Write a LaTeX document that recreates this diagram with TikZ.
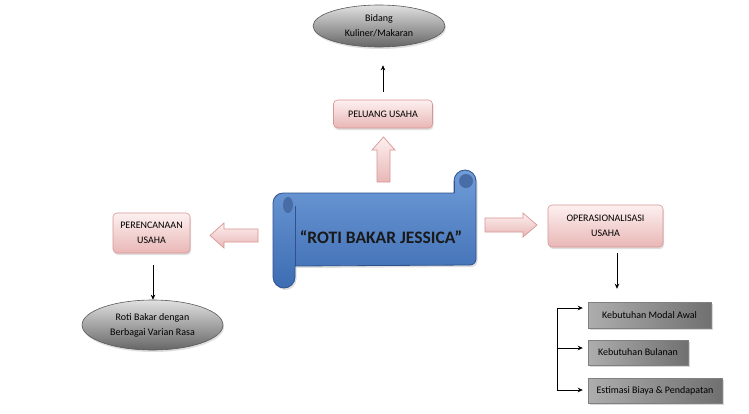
\documentclass[tikz,border=0pt]{standalone}
\usepackage{fontspec}
\setmainfont{Carlito}
\usetikzlibrary{arrows.meta,shadows,calc,shapes.geometric}
\definecolor{pinkA}{RGB}{253,240,240}
\definecolor{pinkB}{RGB}{232,183,182}
\definecolor{pinkLine}{RGB}{217,150,148}
\definecolor{blueA}{RGB}{112,156,216}
\definecolor{blueB}{RGB}{60,108,178}
\definecolor{blueLine}{RGB}{47,82,143}
\definecolor{blueDark}{RGB}{72,108,165}
\tikzset{
  pinkbox/.style={draw=pinkLine, line width=0.6pt, rounded corners=4pt,
    top color=pinkA, bottom color=pinkB, align=center, font=\fontsize{10}{15}\selectfont,
    text=black, drop shadow={opacity=0.25, shadow xshift=1pt, shadow yshift=-2pt}},
  grayell/.style={ellipse, draw=black!65, line width=0.6pt, top color=black!12, bottom color=black!60,
    align=center, font=\fontsize{10}{15}\selectfont, text=black,
    drop shadow={opacity=0.25, shadow xshift=1pt, shadow yshift=-2pt}},
  graybox/.style={draw=black!50, line width=0.5pt, left color=black!32, middle color=black!6, right color=black!56,
    font=\fontsize{10}{12}\selectfont, text=black, inner sep=0pt,
    drop shadow={opacity=0.3, shadow xshift=1.5pt, shadow yshift=-2pt}},
  arr/.style={-{Stealth[length=5pt,width=4.5pt]}, line width=0.6pt, black},
  blockarr/.style={draw=pinkLine, line width=0.7pt, top color=pinkA, bottom color=pinkB, line join=miter},
}
\begin{document}
\begin{tikzpicture}[x=1pt,y=-1pt]
\useasboundingbox[fill=white] (0,0) rectangle (749,413);

% scroll
\path[draw=blueLine, line width=0.8pt, top color=blueA, bottom color=blueB,
  drop shadow={opacity=0.25, shadow xshift=1.5pt, shadow yshift=-2pt}]
  (273,203) arc[start angle=180, end angle=270, radius=10] -- (454,193) -- (454,181)
  arc[start angle=180, end angle=360, radius=11] -- (476,259)
  arc[start angle=0, end angle=90, radius=6] -- (295,266) -- (295,277)
  arc[start angle=0, end angle=180, radius=11] -- cycle;
\fill[blueDark] (288,205) ellipse[x radius=5, y radius=8];
\draw[blueLine, line width=0.6pt] (295,206) -- (295,266);
\fill[blueDark] (466,181) circle (7);
\draw[blueLine, line width=0.6pt] (454,181) -- (454,193);
\node[font=\fontsize{17.5}{20}\selectfont\bfseries, text=black!90] (title) at (381,237) {“ROTI BAKAR JESSICA”};

% pink boxes
\node[pinkbox, minimum width=99pt, minimum height=28pt] (peluang) at (383,114) {PELUANG USAHA};
\node[pinkbox, minimum width=77pt, minimum height=40pt] (perenc) at (151.5,233) {PERENCANAAN\\USAHA};
\node[pinkbox, minimum width=115pt, minimum height=42pt] (oper) at (605.5,226) {OPERASIONALISASI\\USAHA};

% ellipses
\node[grayell, minimum width=132pt, minimum height=42pt, inner sep=0pt] (bidang) at (379,26) {Bidang\\Kuliner/Makaran};
\node[grayell, minimum width=141pt, minimum height=50pt, inner sep=0pt] (roti) at (152.5,325) {Roti Bakar dengan\\Berbagai Varian Rasa};

% gray boxes
\node[graybox, minimum width=123pt, minimum height=26pt] (b1) at (649.5,315) {Kebutuhan Modal Awal};
\node[graybox, minimum width=100pt, minimum height=25pt] (b2) at (638,352.5) {Kebutuhan Bulanan};
\node[graybox, minimum width=134pt, minimum height=25pt] (b3) at (655,390.5) {Estimasi Biaya \& Pendapatan};

% block arrows
\path[blockarr] (377,182) -- (377,150) -- (372,150) -- (383.5,137) -- (395,150) -- (390,150) -- (390,182) -- cycle;
\path[blockarr] (258,229) -- (224,229) -- (224,223) -- (210,235.5) -- (224,248) -- (224,242) -- (258,242) -- cycle;
\path[blockarr] (485,218) -- (523,218) -- (523,213) -- (537,225) -- (523,237) -- (523,232) -- (485,232) -- cycle;

% thin arrows
\draw[arr, shorten <=8pt, shorten >=18pt] (peluang.north) -- (peluang.north |- bidang.south);
\draw[arr, shorten <=12pt] ([xshift=1.5pt]perenc.south) -- ([xshift=1.5pt]perenc.south |- roti.north);
\draw[arr, shorten <=6pt, shorten >=13pt] ([xshift=11.5pt]oper.south) -- ([xshift=11.5pt]oper.south |- b1.north);

% bracket
\coordinate (j1) at (557,308);
\coordinate (j2) at (557,348);
\coordinate (j3) at (557,390);
\draw[line width=0.6pt] (j1) -- (j3);
\draw[arr, shorten >=5pt] (j1) -- (j1 -| b1.west);
\draw[arr, shorten >=5pt] (j2) -- (j2 -| b2.west);
\draw[arr, shorten >=5pt] (j3) -- (j3 -| b3.west);
\end{tikzpicture}
\end{document}
